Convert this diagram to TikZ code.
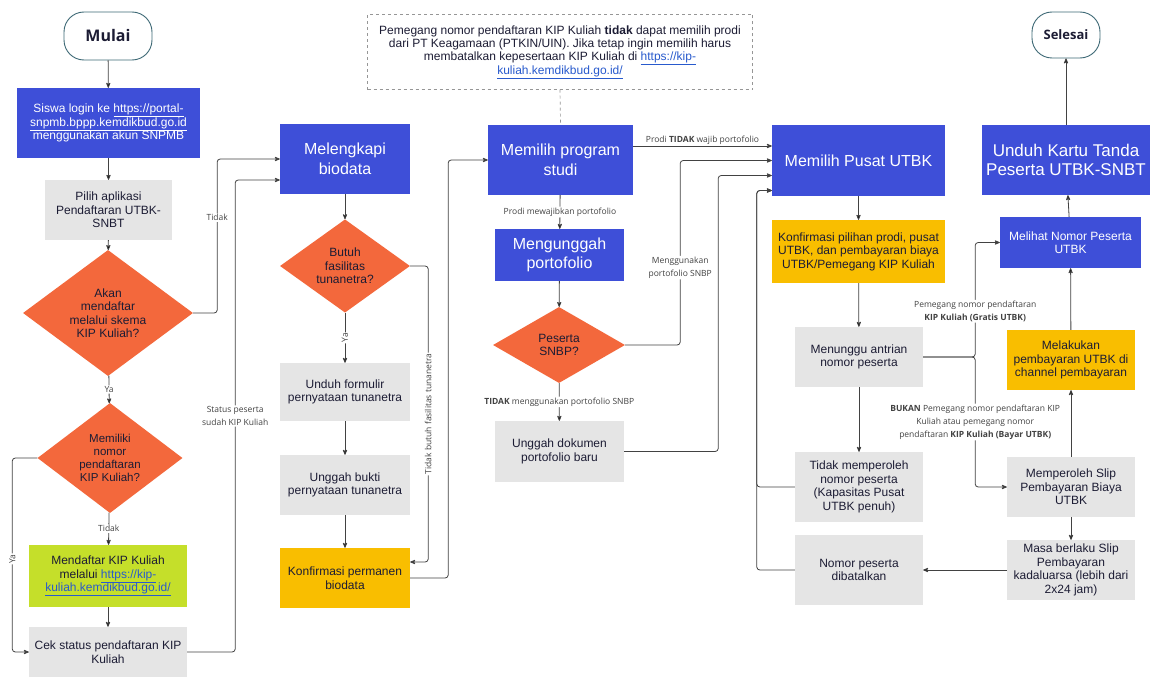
\documentclass[tikz,border=0pt]{standalone}
\usepackage{fontspec}
\setmainfont{Liberation Sans}
\newfontfamily\labelfont{Open Sans}
\usetikzlibrary{arrows, shapes, positioning}

\definecolor{boxblue}{RGB}{62,79,216}
\definecolor{boxgrey}{RGB}{229,229,229}
\definecolor{boxorange}{RGB}{243,104,60}
\definecolor{boxyellow}{RGB}{249,190,0}
\definecolor{boxlime}{RGB}{197,223,42}
\definecolor{ink}{RGB}{28,28,52}
\definecolor{linkblue}{RGB}{40,90,205}
\definecolor{lineg}{RGB}{66,66,66}
\definecolor{termline}{RGB}{62,105,118}
\definecolor{notegrey}{RGB}{150,150,150}

\newcommand{\weblink}[1]{\underline{#1}}
\newcommand{\bluelink}[1]{{\color{linkblue}\underline{#1}}}

\begin{document}
\begin{tikzpicture}[x=1pt, y=-1pt, >=stealth',
		base/.style={rectangle, inner sep=1pt, align=center, text=ink, font=\fontsize{12}{13.5}\selectfont},
		bluebox/.style={base, fill=boxblue, text=white},
		bigblue/.style={bluebox, font=\fontsize{16}{19.5}\selectfont},
		greybox/.style={base, fill=boxgrey},
		yellowbox/.style={base, fill=boxyellow},
		limebox/.style={base, fill=boxlime},
		question/.style={diamond, fill=boxorange, inner sep=0pt, align=center, text=ink, font=\fontsize{12}{13.5}\selectfont},
		terminal/.style={draw=termline, line width=.9pt, rounded corners=20pt, text=ink, font=\labelfont\fontsize{16}{19}\selectfont\bfseries},
		flow/.style={->, draw=lineg, line width=.8pt, rounded corners=3pt},
		lbl/.style={fill=white, inner sep=1pt, text=lineg, align=center, font=\labelfont\fontsize{8.5}{13}\selectfont}]
	\path[fill=white] (0,0) rectangle (1151,677);
	\useasboundingbox (0,0) rectangle (1151,677);

	% kolom 1
	\node[terminal, minimum width=88, minimum height=48] (mulai) at (108,36) {Mulai};
	\node[bluebox, minimum width=183, minimum height=70] (login) at (108.5,123) {Siswa login ke \weblink{https://portal-}\\\weblink{snpmb.bppp.kemdikbud.go.id}\\menggunakan akun SNPMB};
	\node[greybox, minimum width=127, minimum height=60] (pilih) at (108.5,210) {Pilih aplikasi\\Pendaftaran UTBK-\\SNBT};
	\node[question, minimum width=170, minimum height=110] (skema) at (108,313) {Akan\\mendaftar\\melalui skema\\KIP Kuliah?};
	\node[question, minimum width=145, minimum height=110, font=\fontsize{11.5}{12.8}\selectfont] (nomor) at (110,458) {Memiliki\\nomor\\pendaftaran\\KIP Kuliah?};
	\node[limebox, minimum width=158, minimum height=62] (daftar) at (108,576) {Mendaftar KIP Kuliah\\melalui \bluelink{https://kip-}\\\bluelink{kuliah.kemdikbud.go.id/}};
	\node[greybox, minimum width=158, minimum height=50] (cek) at (108,652) {Cek status pendaftaran KIP\\Kuliah};

	% kolom 2
	\node[bigblue, minimum width=130, minimum height=70] (biodata) at (345,159) {Melengkapi\\biodata};
	\node[question, minimum width=130, minimum height=88] (tunanetra) at (345,266) {Butuh\\fasilitas\\tunanetra?};
	\node[greybox, minimum width=130, minimum height=58] (formulir) at (345,392) {Unduh formulir\\pernyataan tunanetra};
	\node[greybox, minimum width=130, minimum height=60] (bukti) at (345,485) {Unggah bukti\\pernyataan tunanetra};
	\node[yellowbox, minimum width=130, minimum height=60] (permanen) at (345,578) {Konfirmasi permanen\\biodata};

	% kolom 3
	\node[draw=notegrey, dashed, minimum width=385, minimum height=75, align=center, text=ink, font=\fontsize{12}{13}\selectfont] (catatan) at (560,52) {Pemegang nomor pendaftaran KIP Kuliah \textbf{tidak} dapat memilih prodi\\dari PT Keagamaan (PTKIN/UIN). Jika tetap ingin memilih harus\\membatalkan kepesertaan KIP Kuliah di \bluelink{https://kip-}\\\bluelink{kuliah.kemdikbud.go.id/}};
	\node[bigblue, minimum width=145, minimum height=70] (prodi) at (560.5,160) {Memilih program\\studi};
	\node[bigblue, minimum width=129, minimum height=52] (portofolio) at (559.5,255) {Mengunggah\\portofolio};
	\node[question, minimum width=132, minimum height=76] (snbp) at (559,345) {Peserta\\SNBP?};
	\node[greybox, minimum width=129, minimum height=61] (dokumen) at (559.5,451.5) {Unggah dokumen\\portofolio baru};

	% kolom 4
	\node[bigblue, minimum width=173, minimum height=71] (pusat) at (858.5,160.5) {Memilih Pusat UTBK};
	\node[yellowbox, minimum width=173, minimum height=63] (konfirmasi) at (858.5,251.5) {Konfirmasi pilihan prodi, pusat\\UTBK, dan pembayaran biaya\\UTBK/Pemegang KIP Kuliah};
	\node[greybox, minimum width=128, minimum height=60] (antrian) at (859,357) {Menunggu antrian\\nomor peserta};
	\node[greybox, minimum width=128, minimum height=70] (gagal) at (859,487) {Tidak memperoleh\\nomor peserta\\(Kapasitas Pusat\\UTBK penuh)};
	\node[greybox, minimum width=128, minimum height=70] (batal) at (859,570) {Nomor peserta\\dibatalkan};

	% kolom 5
	\node[terminal, minimum width=68, minimum height=46, font=\labelfont\fontsize{13}{16}\selectfont\bfseries] (selesai) at (1066,35) {Selesai};
	\node[bluebox, minimum width=168, minimum height=70, font=\fontsize{17}{19}\selectfont] (kartu) at (1066,160) {Unduh Kartu Tanda\\Peserta UTBK-SNBT};
	\node[bluebox, minimum width=141, minimum height=51] (lihat) at (1070.5,242.5) {Melihat Nomor Peserta\\UTBK};
	\node[yellowbox, minimum width=128, minimum height=60] (bayar) at (1071,360) {Melakukan\\pembayaran UTBK di\\channel pembayaran};
	\node[greybox, minimum width=128, minimum height=60] (slip) at (1071,487) {Memperoleh Slip\\Pembayaran Biaya\\UTBK};
	\node[greybox, minimum width=128, minimum height=60] (masa) at (1071,570) {Masa berlaku Slip\\Pembayaran\\kadaluarsa (lebih dari\\2x24 jam)};

	\path[flow] (mulai) edge (login)
		(login) edge (pilih)
		(pilih) edge (skema)
		(skema) edge node[lbl] {Ya} (nomor)
		(nomor) edge node[lbl] {Tidak} (daftar)
		(daftar) edge (cek)
		(biodata) edge (tunanetra)
		(tunanetra) edge node[lbl, rotate=90] {Ya} (formulir)
		(formulir) edge (bukti)
		(bukti) edge (permanen)
		(prodi) edge node[lbl] {Prodi mewajibkan portofolio} (portofolio)
		(portofolio) edge (snbp)
		(snbp) edge node[lbl] {\textbf{TIDAK} menggunakan portofolio SNBP} (dokumen)
		(pusat) edge (konfirmasi)
		(konfirmasi) edge (antrian)
		(antrian) edge (gagal)
		(slip) edge (masa)
		(slip) edge (bayar)
		(bayar) edge (lihat)
		(lihat) edge (kartu)
		(kartu) edge (selesai)
		(masa) edge (batal);

	\draw[flow] (skema.east) -- ++(24,0) |- node[lbl, pos=.31] {Tidak} (biodata.west);
	\draw[flow] (nomor.west) -- ++(-25,0) |- node[lbl, pos=.26, rotate=90] {Ya} (cek.west);
	\draw[flow] (cek.east) -- ++(48,0) |- node[lbl, pos=.25] {Status peserta\\sudah KIP Kuliah} ([yshift=-21pt]biodata.west);
	\draw[flow] (tunanetra.east) -- ++(18,0) |- node[lbl, pos=.25, rotate=90] {Tidak butuh fasilitas tunanetra} ([yshift=16pt]permanen.east);
	\draw[flow] (permanen.east) -- ++(38,0) |- (prodi.west);
	\draw[draw=notegrey, dashed, line width=.7pt] (catatan.south) -- (prodi.north);

	\draw[flow] ([yshift=14pt]prodi.east) -- node[lbl, above, fill=none] {Prodi \textbf{TIDAK} wajib portofolio} ([yshift=14pt]prodi.east -| pusat.west);
	\draw[flow] (snbp.east) -- ++(55,0) |- node[lbl, pos=.21] {Menggunakan\\portofolio SNBP} (pusat.west);
	\draw[flow] (dokumen.east) -- ++(94,0) |- ([yshift=-15pt]pusat.west);
	\draw[flow] (gagal.west) -- ++(-38,0) |- ([yshift=-30pt]pusat.west);
	\draw[flow] (batal.west) -- ++(-38,0) |- ([yshift=-30pt]pusat.west);

	\draw[flow] (antrian.east) -- ++(52,0) |- node[lbl, pos=.2] {Pemegang nomor pendaftaran\\\textbf{KIP Kuliah (Gratis UTBK)}} (lihat.west);
	\draw[flow] (antrian.east) -- ++(52,0) |- node[lbl, pos=.25] {\textbf{BUKAN} Pemegang nomor pendaftaran KIP\\Kuliah atau pemegang nomor\\pendaftaran \textbf{KIP Kuliah (Bayar UTBK)}} (slip.west);
\end{tikzpicture}
\end{document}
